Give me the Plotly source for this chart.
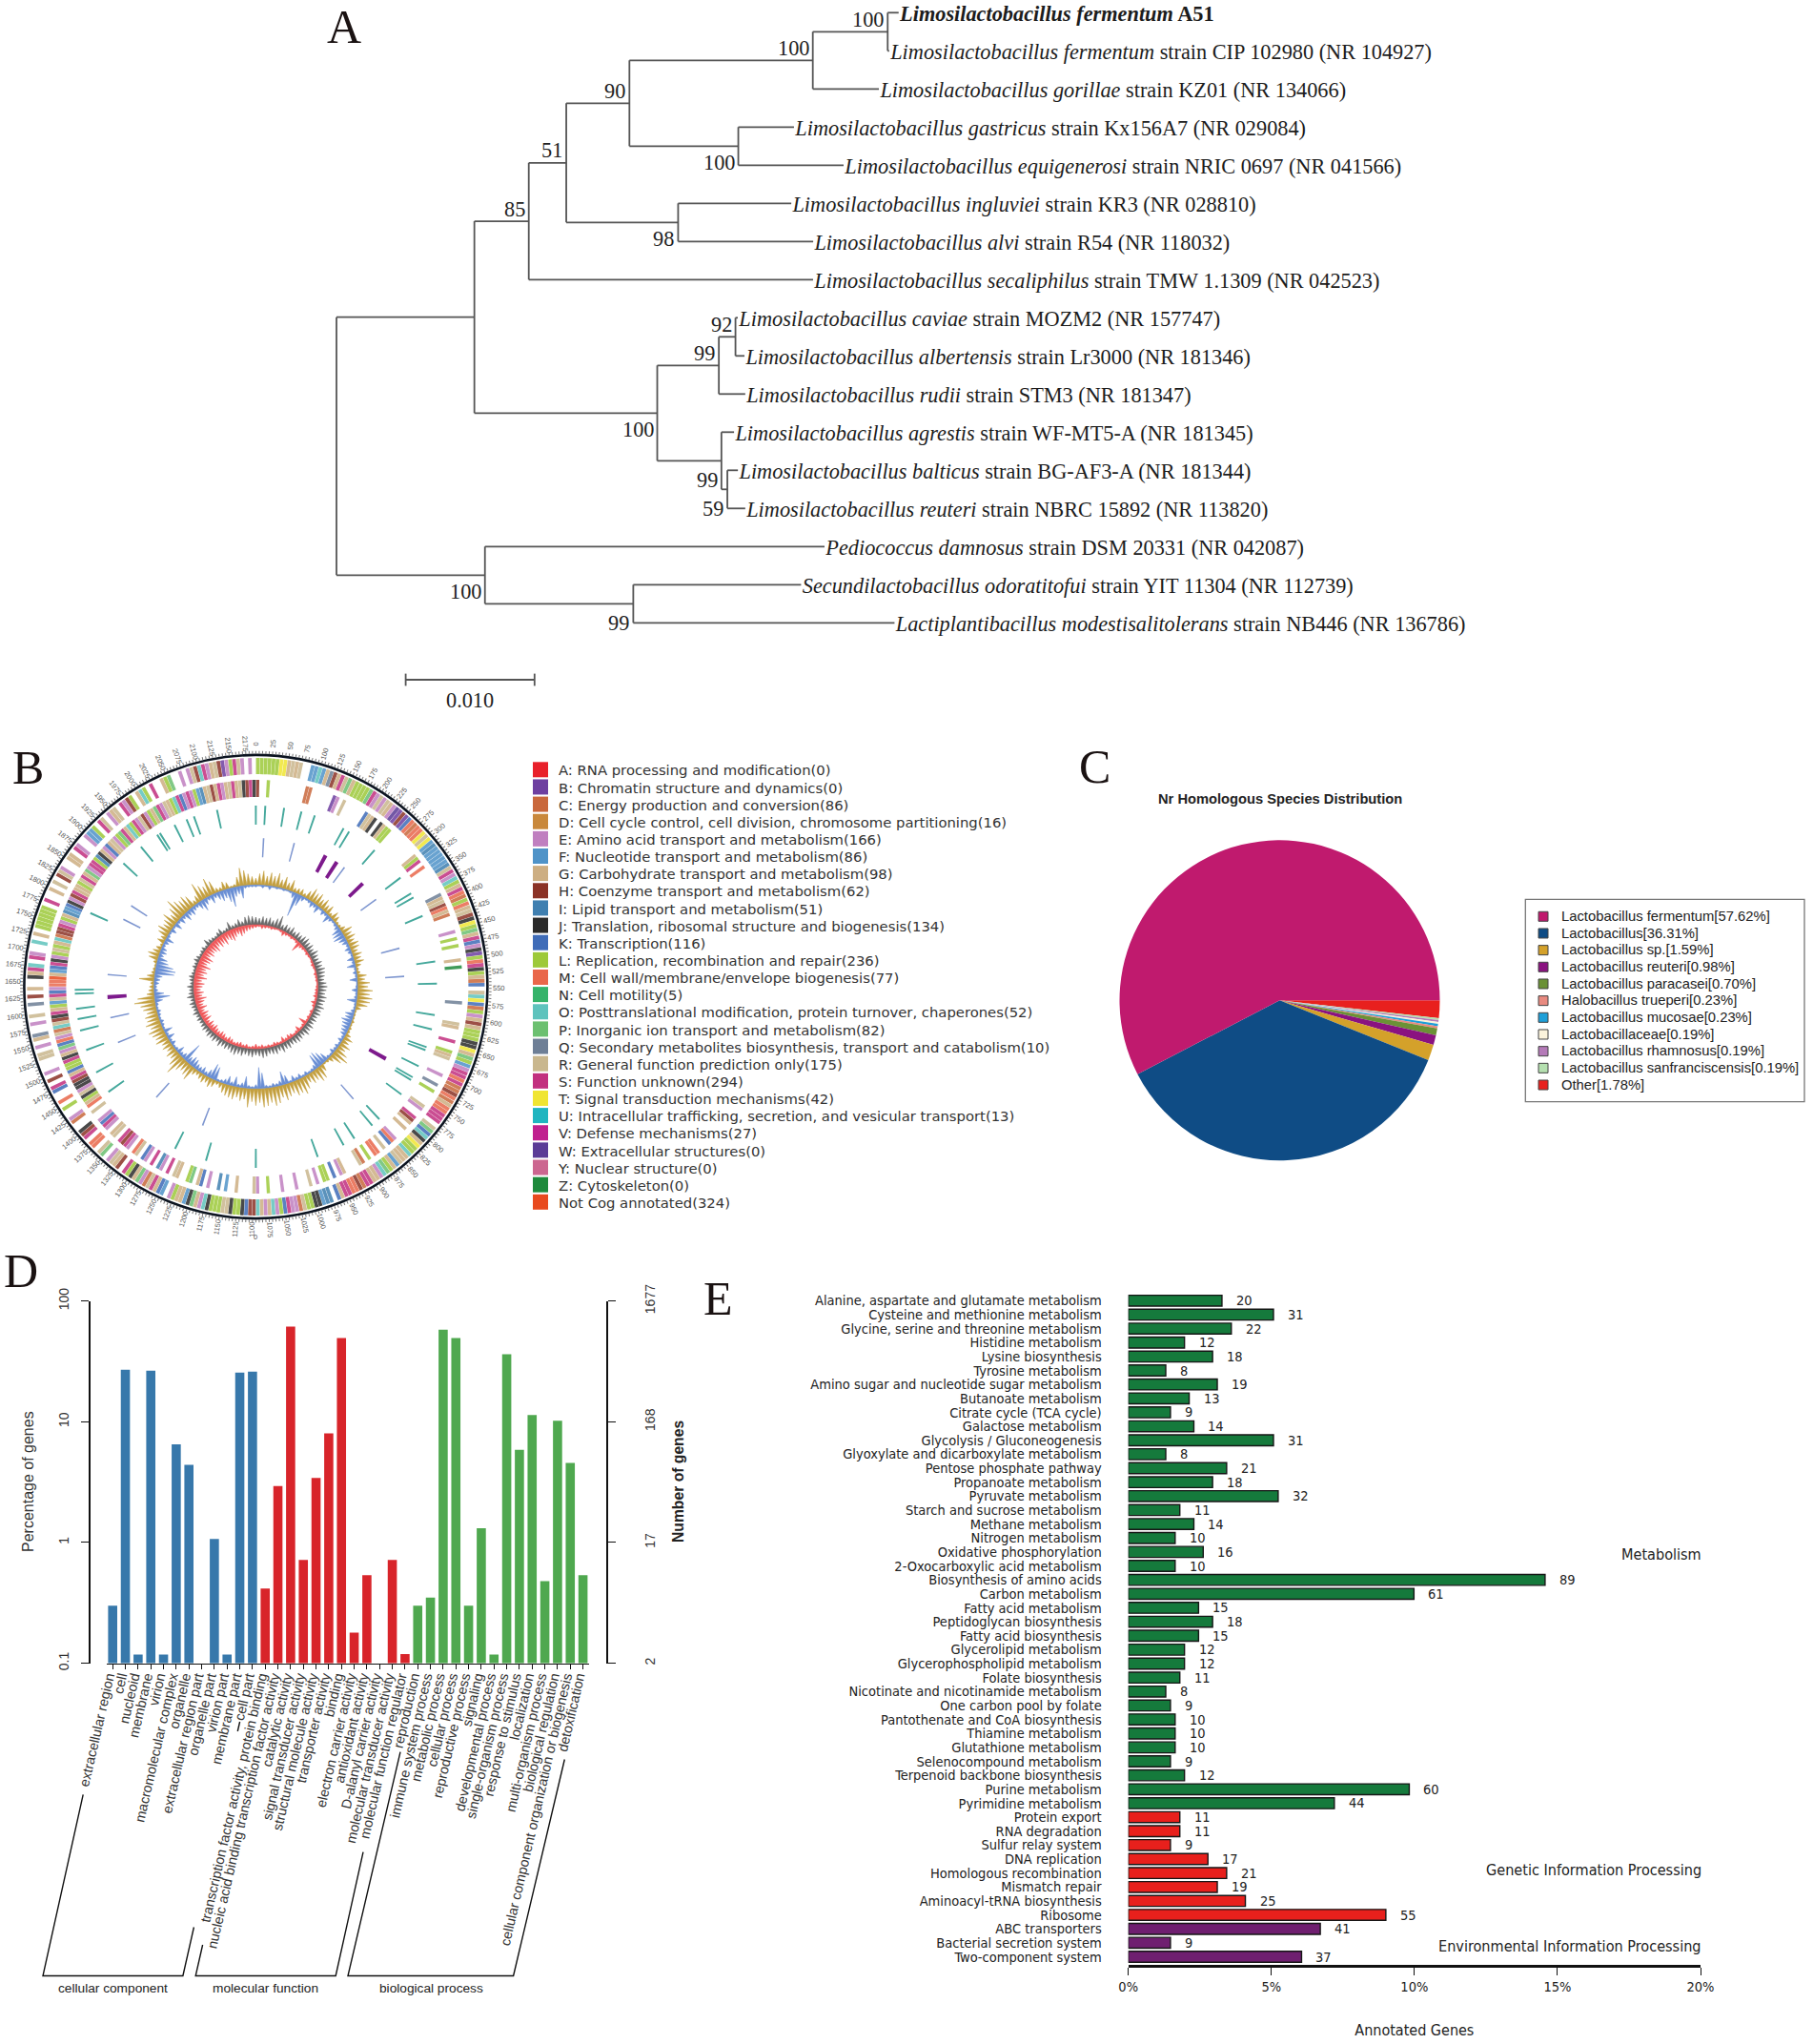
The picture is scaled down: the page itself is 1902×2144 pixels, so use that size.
import math
import plotly.graph_objects as go

W, H = 1902, 2144
def px(x): return x / W
def py(y): return 1 - y / H

# ---------------- Panel A data ----------------
TAXA = [
 "<b><i>Limosilactobacillus fermentum</i> A51</b>",
 "<i>Limosilactobacillus fermentum</i> strain CIP 102980 (NR 104927)",
 "<i>Limosilactobacillus gorillae</i> strain KZ01 (NR 134066)",
 "<i>Limosilactobacillus gastricus</i> strain Kx156A7 (NR 029084)",
 "<i>Limosilactobacillus equigenerosi</i> strain NRIC 0697 (NR 041566)",
 "<i>Limosilactobacillus ingluviei</i> strain KR3 (NR 028810)",
 "<i>Limosilactobacillus alvi</i> strain R54 (NR 118032)",
 "<i>Limosilactobacillus secaliphilus</i> strain TMW 1.1309 (NR 042523)",
 "<i>Limosilactobacillus caviae</i> strain MOZM2 (NR 157747)",
 "<i>Limosilactobacillus albertensis</i> strain Lr3000 (NR 181346)",
 "<i>Limosilactobacillus rudii</i> strain STM3 (NR 181347)",
 "<i>Limosilactobacillus agrestis</i> strain WF-MT5-A (NR 181345)",
 "<i>Limosilactobacillus balticus</i> strain BG-AF3-A (NR 181344)",
 "<i>Limosilactobacillus reuteri</i> strain NBRC 15892 (NR 113820)",
 "<i>Pediococcus damnosus</i> strain DSM 20331 (NR 042087)",
 "<i>Secundilactobacillus odoratitofui</i> strain YIT 11304 (NR 112739)",
 "<i>Lactiplantibacillus modestisalitolerans</i> strain NB446 (NR 136786)",
]
# (branch length, support, children) for inner nodes, (branch length, tip index) for tips
TREE = (0.0, None, [
  (0.01070, None, [
    (0.00422, 85, [
      (0.00291, 51, [
        (0.00490, 90, [
          (0.01423, 100, [
            (0.00581, 100, [(0.00085, 0), (0.00012, 1)]),
            (0.00513, 2)]),
          (0.00845, 100, [(0.00432, 3), (0.00817, 4)])]),
        (0.00868, 98, [(0.00878, 5), (0.01048, 6)])]),
      (0.02206, 7)]),
    (0.01419, 100, [
      (0.00478, 99, [
        (0.00129, 92, [(0.00018, 8), (0.00070, 9)]),
        (0.00205, 10)]),
      (0.00498, 99, [
        (0.00098, 11),
        (0.00046, 59, [(0.00082, 12), (0.00139, 13)])])])]),
  (0.01152, 100, [
    (0.02635, 14),
    (0.01151, 99, [(0.01302, 15), (0.02027, 16)])]),
])
SCALE_BAR = 0.010

# ---------------- Panel B data ----------------
COG_LEGEND = [
 "A: RNA processing and modification(0)", "B: Chromatin structure and dynamics(0)",
 "C: Energy production and conversion(86)", "D: Cell cycle control, cell division, chromosome partitioning(16)",
 "E: Amino acid transport and metabolism(166)", "F: Nucleotide transport and metabolism(86)",
 "G: Carbohydrate transport and metabolism(98)", "H: Coenzyme transport and metabolism(62)",
 "I: Lipid transport and metabolism(51)", "J: Translation, ribosomal structure and biogenesis(134)",
 "K: Transcription(116)", "L: Replication, recombination and repair(236)",
 "M: Cell wall/membrane/envelope biogenesis(77)", "N: Cell motility(5)",
 "O: Posttranslational modification, protein turnover, chaperones(52)", "P: Inorganic ion transport and metabolism(82)",
 "Q: Secondary metabolites biosynthesis, transport and catabolism(10)", "R: General function prediction only(175)",
 "S: Function unknown(294)", "T: Signal transduction mechanisms(42)",
 "U: Intracellular trafficking, secretion, and vesicular transport(13)", "V: Defense mechanisms(27)",
 "W: Extracellular structures(0)", "Y: Nuclear structure(0)", "Z: Cytoskeleton(0)", "Not Cog annotated(324)",
]
COG_COLORS = ["#e8202a","#6e3fa0","#c9683c","#c9883c","#c07fc0","#4f93c8","#cdae82","#8b3226","#3f7fb0","#2a2a2a",
 "#3f6cb8","#9dc93a","#e9674a","#35b36a","#5ec3bd","#6cc070","#6e7f96","#c9b78e","#c2307f","#f0e532",
 "#1fb5c0","#c0208f","#5b3b96","#cc6690","#1e8a3c","#e84a1e"]
COG_KEYS = "ABCDEFGHIJKLMNOPQRSTUVWYZx"
# one letter per degree, ten degrees per group; '.' is a gap
RING_OUTER = [
 "LLLLLLTTGR","GR..FFOFGQ","HGSRPGLLLL","PSERERGEWB","HBKMCMMTRT","FIFFFFFIRS","EOLGSMCLMG","RHJTLPGSKE",
 "JBLMSJLGCK",".ROTKCLEGH","GLLLJJTGPL","FESSMSCCHM","CGMMSSS.RP","KOJGTLLOGG","RFGLPOEGGS","SCHMMSSGK.",
 "IIFJJLLRCE","ESKLEOGEGO","HHKJLLJRRL","LLJOEGPJFG","GLE.FKGSRC","EPGJLS.HGR","E.PR.MM.SH","J..CE..L.M",
 "..KS.H.E..",".RR.E.GQ..","E.R..Q.H.G","..JGSO.SE.",".O.G.LLLLL","L.S..G.R.H","RE..GG.SE.",".EFFL.SR.E",
 "GR.SEHL.GO","L.S..GLP..","E.ERHOSEGR","HBELSRE.E.",
]
RING_INNER = [
 "H..L......","....CC....","..BE.R....","..KRGJ.JGL","L.........","GLS.M.....","...QGRHMGC","....E.L.L.",
 "..G.Z.....","....Q.....","RG...S..LG","R....E..Q.","L....RE..S","HG.G...EMK",".R.MM.L.CR","....GE.K.L",
 "L.E.R...E.","..E...L..E","R....G..F.","I..E.KG.PL","..GR.S.EI.","S.EK.RM.ES","HS.RG.ESKE","..R.MGLJRE",
 "JJHSGKLLSJ","GEPKMERCOR","HJSGLFRSKE","MMxGFKSJEL","RLGOCHHSEL","GIFKJEHSGG","LRSGPESSLI","JGEKGRELPS",
 "GOLSERHELG","PSERGLOSKE","SELFIGRHGS","EGRSGRJHSJ",
]
# position of tRNA/rRNA and other features, degrees clockwise from the top
RING3_POS = [0,3,9,14.6,19,29,31,41,53,59,60.5,67,82,89,99,103.6,109.5,110.5,116,120,121,126.5,137,140,147,151,160,
             180,196,206.5,234.5,241.8,249.5,256,259.7,263,267.8,269,294,313,320.6,327,328,333.3,337.5,340,347.6]
RING4_POS = [3,15,36.6,54,75,86,139,201,222,248,258,274.7,297,303]
RING4_THICK = [28,33,46,119,266]
GC_GOLD = [7,12,15,10,14,11,15,9,13,8,12,5,6,7,4,9,14,11,
 13,9,12,8,10,4,9,7,3,3,6,12,9,11,8,11,10,7,
 10,8,10,6,3,4,10,8,13,11,16,13,16,14,12,6,2,2,
 2,3,2,3,3,6,10,8,12,9,14,18,13,6,3,2,8,14,
 15,11,12,9,14,18,15,16,12,14,17,13,18,20,16,19,20,15,
 18,14,20,12,14,11,14,13,12,10,6,4,8,10,7,9,7,5,
 7,16,13,11,14,22,15,10,12,8,11,9,14,12,14,16,12,16,
 13,14,11,14,16,22,18,8,6,5,4,16,8,4,3,2,4,10,
 12,8,6,3,8,6,11,14,10,12,16,10,15,22,17,14,16,13,
 5,8,20,15,12,19,14,5,4,9,7,2,3,10,19,16,12,9]
GC_BLUE = [2,1,3,1,4,1,2,1,2,1,2,6,25,12,5,2,3,6,
 4,8,2,5,3,9,4,2,3,5,10,11,12,8,6,3,6,4,
 2,7,3,9,2,4,2,8,1,2,6,2,3,10,2,2,4,9,
 8,11,9,8,7,6,3,5,2,4,3,5,2,3,9,13,16,15,
 5,3,2,4,2,5,3,6,2,9,14,5,3,4,2,3,16,22,
 4,2,3,12,5,3,10,4,9,5,3,2,14,16,8,4,7,5,
 6,9,10,7,21,6,4,8,3,2,5,3,8,3,9,2,3,4,
 2,3,4,2,3,8,16,10,4,3,5,6,8,20,21,18,12,10,
 5,7,6,3,5,9,3,2,6,2,8,3,7,4,9,6,8,5,
 4,8,12,7,4,9,5,8,11,9,14,20,10,8,13,3,2,2]
SKEW_BLACK = [8,7,9,8,9,7,10,14,6,8,7,9,6,8,7,9,10,8,9,7,10,8,7,9,8,10,9,8,7,9,10,9,8,10,9,8,10,8,9,7,
 8,7,9,8,10,7,8,9,8,7,9,8,10,7,9,8,7,9,10,8,7,9,8,7,9,8,10,9,7,8,7,9,6,8,7,8,6,7,6,5,
 6,5,7,5,6,7,5,8,6,5,7,4,5,6,4,3,5,4,6,5,3,4,5,3,8,5,4,3,5,7,3,4,9,4,5,8,5,9,10,9]
SKEW_RED = [3,2,4,3,2,3,2,1,2,5,3,2,3,2,3,11,4,3,2,3,2,1,2,3,2,1,3,2,2,1,2,3,3,4,2,5,3,1,3,2,
 3,2,9,3,2,6,3,2,4,5,3,6,2,3,4,2,3,2,4,3,5,3,2,4,3,5,4,3,5,6,4,6,7,5,6,8,6,8,5,9,
 7,9,6,10,7,9,12,8,10,7,9,11,8,13,9,12,10,14,9,11,13,8,11,9,10,12,8,11,9,12,8,10,12,9,7,10,8,6,5,4]
GENOME_TOTAL = 2190
GENOME_LABELS = list(range(0, 2176, 25))

# ---------------- Panel C data ----------------
NR_NAMES = ["Lactobacillus fermentum","Lactobacillus","Lactobacillus sp.","Lactobacillus reuteri","Lactobacillus paracasei",
            "Halobacillus trueperi","Lactobacillus mucosae","Lactobacillaceae","Lactobacillus rhamnosus",
            "Lactobacillus sanfranciscensis","Other"]
NR_VALUES = [57.62,36.31,1.59,0.98,0.70,0.23,0.23,0.19,0.19,0.19,1.78]
NR_COLORS = ["#c01a6e","#0f4c85","#d4a12a","#8a1280","#6b9136","#e88a80","#1e9fd8","#fbf3dc","#b47ab8","#b5e0b0","#e8201e"]

# ---------------- Panel D data ----------------
GO_CC = ["extracellular region","cell","nucleoid","membrane","virion","macromolecular complex","organelle",
         "extracellular region part","organelle part","virion part","membrane part","cell part"]
GO_CC_V = [0.3,27,0.118,26.5,0.118,6.5,4.4,None,1.07,0.118,25.5,26]
GO_MF = ["transcription factor activity, protein binding","nucleic acid binding transcription factor activity",
         "catalytic activity","signal transducer activity","structural molecule activity","transporter activity",
         "binding","electron carrier activity","antioxidant activity","D-alanyl carrier activity",
         "molecular transducer activity","molecular function regulator"]
GO_MF_V = [0.415,2.94,61.4,0.716,3.43,8.03,49.3,0.179,0.537,None,0.716,0.119]
GO_BP = ["reproduction","immune system process","metabolic process","cellular process","reproductive process",
         "signaling","developmental process","single-organism process","response to stimulus","localization",
         "multi-organism process","biological regulation","cellular component organization or biogenesis","detoxification"]
GO_BP_V = [0.3,0.35,58,49.3,0.3,1.31,0.118,36.3,5.86,11.4,0.479,10.2,4.57,0.537]
GO_TOTAL = 1677

# ---------------- Panel E data ----------------
KEGG_MET = ["Alanine, aspartate and glutamate metabolism","Cysteine and methionine metabolism","Glycine, serine and threonine metabolism",
 "Histidine metabolism","Lysine biosynthesis","Tyrosine metabolism","Amino sugar and nucleotide sugar metabolism","Butanoate metabolism",
 "Citrate cycle (TCA cycle)","Galactose metabolism","Glycolysis / Gluconeogenesis","Glyoxylate and dicarboxylate metabolism",
 "Pentose phosphate pathway","Propanoate metabolism","Pyruvate metabolism","Starch and sucrose metabolism","Methane metabolism",
 "Nitrogen metabolism","Oxidative phosphorylation","2-Oxocarboxylic acid metabolism","Biosynthesis of amino acids","Carbon metabolism",
 "Fatty acid metabolism","Peptidoglycan biosynthesis","Fatty acid biosynthesis","Glycerolipid metabolism","Glycerophospholipid metabolism",
 "Folate biosynthesis","Nicotinate and nicotinamide metabolism","One carbon pool by folate","Pantothenate and CoA biosynthesis",
 "Thiamine metabolism","Glutathione metabolism","Selenocompound metabolism","Terpenoid backbone biosynthesis","Purine metabolism","Pyrimidine metabolism"]
KEGG_MET_V = [20,31,22,12,18,8,19,13,9,14,31,8,21,18,32,11,14,10,16,10,89,61,15,18,15,12,12,11,8,9,10,10,10,9,12,60,44]
KEGG_GEN = ["Protein export","RNA degradation","Sulfur relay system","DNA replication","Homologous recombination","Mismatch repair","Aminoacyl-tRNA biosynthesis","Ribosome"]
KEGG_GEN_V = [11,11,9,17,21,19,25,55]
KEGG_ENV = ["ABC transporters","Bacterial secretion system","Two-component system"]
KEGG_ENV_V = [41,9,37]
KEGG_TOTAL = 611
KEGG_TICKS = [0, 5, 10, 15, 20]

fig = go.Figure()
SERIF = "Liberation Serif"
SANS = "Liberation Sans"
COND = "DejaVu Sans Condensed"

def page_text(x, y, text, font, angle=0):
    fig.add_annotation(x=px(x), y=py(y), xref="paper", yref="paper", text=text, showarrow=False, textangle=angle,
                       xanchor="center", yanchor="middle", font=font)

# ---------------- A: tree ----------------
UNIT = 135.2 / SCALE_BAR         # px per substitution
ROOT_X, TIP0_Y, TIP_DY = 353.0, 13.3, 40.0
xa_range = [-ROOT_X / UNIT, (W - ROOT_X) / UNIT]
ya_range = [(H - TIP0_Y) / TIP_DY, -TIP0_Y / TIP_DY]
seg_x, seg_y, tip_x, tip_y, sup = [], [], [], [], []
def walk(node, x0):
    x = x0 + node[0]
    if len(node) == 2:
        tip_x.append(x); tip_y.append(node[1])
        return node[1], x
    ys = []
    for ch in node[2]:
        yc, xc = walk(ch, x)
        ys.append(yc)
        seg_x.extend([x, xc, None]); seg_y.extend([yc, yc, None])
    seg_x.extend([x, x, None]); seg_y.extend([min(ys), max(ys), None])
    y = (min(ys) + max(ys)) / 2
    if node[1] is not None:
        sup.append((x, y, node[1]))
    return y, x
walk(TREE, 0.0)
fig.add_trace(go.Scatter(x=seg_x, y=seg_y, mode="lines", line=dict(color="#555", width=1.8), xaxis="x", yaxis="y", hoverinfo="skip"))
fig.add_trace(go.Scatter(x=[t + 0.0001 for t in tip_x], y=[i + 0.08 for i in tip_y], mode="text",
                         text=[TAXA[i] for i in tip_y], textposition="middle right",
                         textfont=dict(family=SERIF, size=22.3, color="#1c1c1c"), xaxis="x", yaxis="y", hoverinfo="skip"))
for (x, y, s) in sup:
    up = s in (85, 51, 90, 92) or (s == 100 and y < 2) or (s == 99 and 8 < y < 9.5)
    extra = -3 if (s in (59, 99) and y > 9.5) else 0
    fig.add_annotation(x=x, y=y, xref="x", yref="y", text=str(s), showarrow=False, xanchor="right", yanchor="middle",
                       xshift=-2, yshift=(13 if up else -17 + extra),
                       font=dict(family=SERIF, size=22.3, color="#222"))
SB0 = (425.6 - ROOT_X) / UNIT
SB_Y = (713 - TIP0_Y) / TIP_DY
fig.add_trace(go.Scatter(x=[SB0, SB0, None, SB0, SB0 + SCALE_BAR, None, SB0 + SCALE_BAR, SB0 + SCALE_BAR],
                         y=[SB_Y - 0.16, SB_Y + 0.16, None, SB_Y, SB_Y, None, SB_Y - 0.16, SB_Y + 0.16],
                         mode="lines", line=dict(color="#555", width=1.8), xaxis="x", yaxis="y", hoverinfo="skip"))
fig.add_annotation(x=SB0 + SCALE_BAR / 2, y=SB_Y, xref="x", yref="y", text="0.010", showarrow=False, yshift=-21,
                   font=dict(family=SERIF, size=22.3, color="#222"))

# ---------------- B: circular genome ----------------
CX, CY, RO = 268.4, 1035.0, 243.0
cog = dict(zip(COG_KEYS, COG_COLORS))
def ring(groups, r0, r1):
    th, col = [], []
    for g, grp in enumerate(groups):
        for j, ch in enumerate(grp):
            if ch != ".":
                th.append(g * 10 + j + 0.5); col.append(cog[ch])
    fig.add_trace(go.Barpolar(theta=th, r=[r1 - r0] * len(th), base=[r0] * len(th), width=[0.92] * len(th), opacity=0.85,
                              marker=dict(color=col, line=dict(width=0)), subplot="polar", hoverinfo="skip"))
ring(RING_OUTER, 223, 240)
ring(RING_INNER, 199, 217)
def feature(pos, r0, r1, color, w):
    fig.add_trace(go.Barpolar(theta=pos, r=[r1 - r0] * len(pos), base=[r0] * len(pos), width=[w] * len(pos),
                              marker=dict(color=color, line=dict(width=0)), subplot="polar", hoverinfo="skip"))
feature(RING3_POS, 170, 190, "#45a89c", 0.6)
feature(RING4_POS, 136, 156, "#7f97d0", 0.6)
feature(RING4_THICK, 136, 156, "#7d1a8c", 1.5)
def spikes(vals, base, sign, color):
    step = 360 / len(vals)
    th, rr = [], []
    for i, v in enumerate(vals):
        th += [i * step, i * step + step * 0.5]
        rr += [base + sign * v, base + sign * 1]
    th.append(360); rr.append(base + sign * vals[0])
    back = [360 - k * 2 for k in range(181)]
    th += back; rr += [base] * len(back)
    fig.add_trace(go.Scatterpolar(theta=th, r=rr, mode="lines", fill="toself", fillcolor=color,
                                  line=dict(color=color, width=0.5), subplot="polar", hoverinfo="skip"))
spikes(GC_GOLD, 106.7, 1, "#c4a040")
spikes(GC_BLUE, 106.7, -1, "#6a8fd4")
spikes(SKEW_BLACK, 65, 1, "#6a6a6a")
spikes(SKEW_RED, 65, -1, "#f0585a")
for i, v in enumerate(GENOME_LABELS):
    ang = 360 * v / GENOME_TOTAL
    a = math.radians(ang)
    ta = ang - 90 if ang <= 180 else ang + 90
    page_text(CX + 255 * math.sin(a), CY - 255 * math.cos(a), str(v), dict(family=SANS, size=7.5, color="#555"), ta)
page_text(CX, CY + 262, "0", dict(family=SANS, size=7.5, color="#555"))

# legends on a whole-page axis pair
LB_Y = [807.3 + i * 18.14 for i in range(len(COG_LEGEND))]
fig.add_trace(go.Scatter(x=[567] * len(LB_Y), y=LB_Y, mode="markers", marker=dict(symbol="square", size=16, color=COG_COLORS, line=dict(width=0)),
                         xaxis="x2", yaxis="y2", hoverinfo="skip"))
fig.add_trace(go.Scatter(x=[586] * len(LB_Y), y=[v + 2.5 for v in LB_Y], mode="text", text=COG_LEGEND, textposition="middle right",
                         textfont=dict(family="DejaVu Sans", size=14.8, color="#333"), xaxis="x2", yaxis="y2", hoverinfo="skip"))

# ---------------- C: pie ----------------
PCX, PCY, PR = 1342.5, 1049.3, 168.0
fig.add_trace(go.Pie(labels=NR_NAMES[::-1], values=NR_VALUES[::-1], sort=False, direction="clockwise", rotation=90,
                     marker=dict(colors=NR_COLORS[::-1], line=dict(width=0)), textinfo="none", hoverinfo="skip", showlegend=False,
                     domain=dict(x=[px(PCX - PR), px(PCX + PR)], y=[py(PCY + PR), py(PCY - PR)])))
page_text(1343, 838, "<b>Nr Homologous Species Distribution</b>", dict(family=SANS, size=14.7, color="#222"))
fig.add_shape(type="rect", xref="paper", yref="paper", x0=px(1600.3), x1=px(1893), y0=py(943.3), y1=py(1155.7),
              line=dict(color="#777", width=1.3))
LC_Y = [961.3 + i * 17.67 for i in range(len(NR_NAMES))]
fig.add_trace(go.Scatter(x=[1619] * len(LC_Y), y=LC_Y, mode="markers",
                         marker=dict(symbol="square", size=10, color=NR_COLORS, line=dict(color="#444", width=1)), xaxis="x2", yaxis="y2", hoverinfo="skip"))
fig.add_trace(go.Scatter(x=[1638] * len(LC_Y), y=[v + 1 for v in LC_Y], mode="text",
                         text=[f"{n}[{v:.2f}%]" for n, v in zip(NR_NAMES, NR_VALUES)], textposition="middle right",
                         textfont=dict(family=SANS, size=14.8, color="#222"), xaxis="x2", yaxis="y2", hoverinfo="skip"))

# ---------------- D: GO bars ----------------
go_labels = GO_CC + GO_MF + GO_BP
go_vals = GO_CC_V + GO_MF_V + GO_BP_V
go_cols = ["#3778ab"] * len(GO_CC) + ["#d8242a"] * len(GO_MF) + ["#4fa84f"] * len(GO_BP)
idx = list(range(len(go_labels)))
fig.add_trace(go.Bar(x=idx, y=go_vals, width=0.72, marker=dict(color=go_cols, line=dict(width=0)), xaxis="x3", yaxis="y3", hoverinfo="skip"))
fig.add_trace(go.Scatter(x=idx, y=[(v * GO_TOTAL / 100 if v else None) for v in go_vals], mode="markers", marker=dict(opacity=0, size=1),
                         xaxis="x3", yaxis="y4", hoverinfo="skip"))
brackets = [
 [(87.2, 1882.3), (45, 2072.5), (191.9, 2072.5), (203.4, 2021.5)],
 [(212.6, 2040), (205.2, 2072.5), (352.2, 2072.5), (381, 1942.7)],
 [(251.6, 1806), (249.3, 1816)],
 [(420, 1837.6), (365, 2072.5), (538.6, 2072.5), (592.3, 1845.5)],
]
for b in brackets:
    d = "M " + " L ".join(f"{px(x):.5f},{py(y):.5f}" for x, y in b)
    fig.add_shape(type="path", path=d, xref="paper", yref="paper", line=dict(color="#111", width=1.4))
for name, xc in [("cellular component", 118.5), ("molecular function", 278.7), ("biological process", 452.2)]:
    page_text(xc, 2085.6, name, dict(family=SANS, size=13.7, color="#222"))
page_text(29, 1554, "Percentage of genes", dict(family=SANS, size=16, color="#333"), -90)
page_text(711, 1554, "<b>Number of genes</b>", dict(family=SANS, size=15.7, color="#222"), -90)

# ---------------- E: KEGG bars ----------------
kegg_labels = KEGG_MET + KEGG_GEN + KEGG_ENV
kegg_vals = KEGG_MET_V + KEGG_GEN_V + KEGG_ENV_V
kegg_pct = [v * 100 / KEGG_TOTAL for v in kegg_vals]
kegg_cols = ["#157a3c"] * len(KEGG_MET) + ["#e8201c"] * len(KEGG_GEN) + ["#6f1f70"] * len(KEGG_ENV)
kidx = list(range(len(kegg_labels)))
fig.add_trace(go.Bar(x=kegg_pct, y=kidx, orientation="h", width=0.78, marker=dict(color=kegg_cols, line=dict(color="#161616", width=1.4)),
                     xaxis="x5", yaxis="y5", hoverinfo="skip"))
for i, (p, v) in enumerate(zip(kegg_pct, kegg_vals)):
    fig.add_annotation(x=p, y=i, xref="x5", yref="y5", text=str(v), showarrow=False, xanchor="left", xshift=13,
                       font=dict(family=COND, size=14.5, color="#222"))
n1, n2, n3 = len(KEGG_MET), len(KEGG_GEN), len(KEGG_ENV)
for y0, y1, c in [(-0.5, n1 - 0.5, "#2e8b4a"), (n1 - 0.5, n1 + n2 - 0.5, "#e0403c"), (n1 + n2 - 0.5, n1 + n2 + n3 - 0.44, "#8a2a90")]:
    fig.add_trace(go.Scatter(x=[20.53, 20.53], y=[y0, y1], mode="lines", line=dict(color=c, width=2.5), cliponaxis=False,
                             xaxis="x5", yaxis="y5", hoverinfo="skip"))
for name, r in [("Metabolism", 18.2), ("Genetic Information Processing", 40.8), ("Environmental Information Processing", 46.25)]:
    fig.add_annotation(x=20, y=r, xref="x5", yref="y5", text=name, showarrow=False, xanchor="right", xshift=3,
                       font=dict(family=COND, size=16.1, color="#222"))

# ---------------- panel letters ----------------
for t, x, y in [("A", 361, 28), ("B", 29, 805), ("C", 1148, 804), ("D", 22, 1333), ("E", 753, 1362)]:
    page_text(x, y, t, dict(family=SERIF, size=50, color="#1a1212"))

hidden = dict(visible=False, showgrid=False, zeroline=False, fixedrange=True, automargin=False)
fig.update_layout(
    width=W, height=H, margin=dict(l=0, r=0, t=0, b=0, autoexpand=False), showlegend=False, barmode="overlay",
    paper_bgcolor="white", plot_bgcolor="rgba(0,0,0,0)",
    xaxis=dict(hidden, domain=[0, 1], range=xa_range),
    yaxis=dict(hidden, domain=[0, 1], range=ya_range),
    xaxis2=dict(hidden, domain=[0, 1], range=[0, W], anchor="y2"),
    yaxis2=dict(hidden, domain=[0, 1], range=[H, 0], anchor="x2"),
    xaxis3=dict(domain=[px(111.6), px(617.6)], range=[-0.495, 37.45], anchor="y3", showgrid=False, zeroline=False, automargin=False,
                tickmode="array", tickvals=idx, ticktext=go_labels, tickangle=-77, ticks="outside", ticklen=5,
                tickcolor="#111", showline=True, linecolor="#111", linewidth=1.4, tickwidth=1,
                ticklabelstandoff=-6, ticklabelshift=-5,
                tickfont=dict(family=SANS, size=14.4, color="#333")),
    yaxis3=dict(domain=[py(1744.6), py(1364.7)], type="log", range=[-1, 2], anchor="free", position=px(94), showgrid=False, zeroline=False, automargin=False,
                tickmode="array", tickvals=[0.1, 1, 10, 100], ticktext=["0.1", "1", "10", "100"], tickangle=-90, ticks="outside", ticklen=8,
                tickcolor="#111", showline=True, linecolor="#111", linewidth=1.6, ticklabelstandoff=8,
                tickfont=dict(family=SANS, size=14, color="#333")),
    yaxis4=dict(domain=[py(1744.6), py(1364.7)], type="log", range=[math.log10(1.677), math.log10(1677)], overlaying="y3", side="right",
                anchor="free", position=px(637), showgrid=False, zeroline=False, automargin=False, tickmode="array",
                tickvals=[1.677, 16.77, 167.7, 1677], ticktext=["2", "17", "168", "1677"], tickangle=-90, ticks="outside", ticklen=8,
                tickcolor="#111", showline=True, linecolor="#111", linewidth=1.6, ticklabelstandoff=24,
                tickfont=dict(family=SANS, size=14, color="#333")),
    xaxis5=dict(domain=[px(1183.7), px(1784)], range=[0, 20], anchor="y5", showgrid=False, zeroline=False, automargin=False,
                tickmode="array", tickvals=KEGG_TICKS, ticktext=[f"{t}%" for t in KEGG_TICKS], ticks="outside", ticklen=8, tickcolor="#111",
                showline=True, linecolor="#111", linewidth=3, tickfont=dict(family=COND, size=14.5, color="#222"),
                title=dict(text="Annotated Genes", standoff=33, font=dict(family=COND, size=16, color="#222"))),
    yaxis5=dict(domain=[py(2060.7), py(1357)], range=[len(kidx) - 0.44, -0.5], anchor="x5", showgrid=False, zeroline=False, automargin=False,
                tickmode="array", tickvals=kidx, ticktext=kegg_labels, ticks="", showline=False, ticklabelstandoff=27,
                tickfont=dict(family=COND, size=14.5, color="#222")),
    polar=dict(domain=dict(x=[px(CX - RO), px(CX + RO)], y=[py(CY + RO), py(CY - RO)]), bgcolor="rgba(0,0,0,0)",
               barmode="overlay",
               radialaxis=dict(range=[0, RO], visible=False, showgrid=False),
               angularaxis=dict(rotation=90, direction="clockwise", showgrid=False, showline=True, linecolor="#0c1420", linewidth=2.6,
                                thetaunit="degrees", tickmode="array", tickvals=[360 * k * 5 / GENOME_TOTAL for k in range(GENOME_TOTAL // 5)],
                                ticks="outside", ticklen=3, tickcolor="#777", tickwidth=0.5, showticklabels=False)),
)
fig.write_html("out.html", post_script="document.body.style.margin='0';", config=dict(displayModeBar=False))
